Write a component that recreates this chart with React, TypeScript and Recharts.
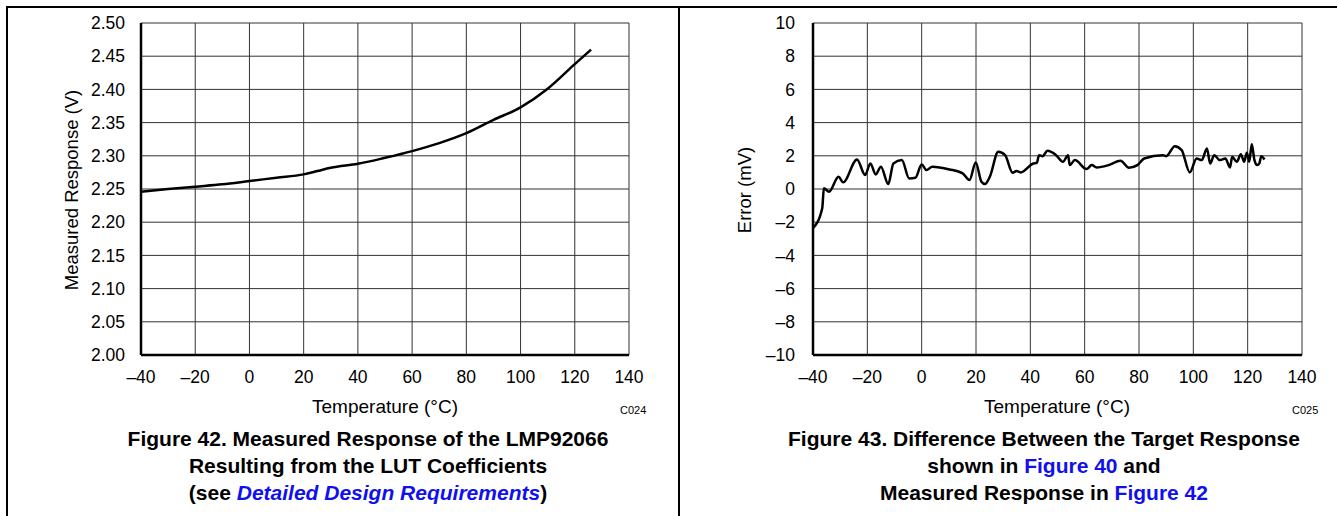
import React from 'react';
import { CartesianGrid, Line, LineChart, XAxis, YAxis } from 'recharts';

// Temperature axis shared by both figures
const TEMP_TICKS = [-40, -20, 0, 20, 40, 60, 80, 100, 120, 140];

// Figure 42: measured response (V)
const RESP_TEMP = [-40, -30, -20, -10, 0, 10, 20, 25, 30, 40, 50, 60, 70, 80, 90, 100, 110, 120, 126];
const RESP_VOLTS = [2.246, 2.25, 2.2535, 2.257, 2.262, 2.267, 2.272, 2.277, 2.282, 2.288, 2.297, 2.307, 2.319, 2.334, 2.354, 2.373, 2.401, 2.438, 2.46];
const RESP_TICKS = [2.0, 2.05, 2.1, 2.15, 2.2, 2.25, 2.3, 2.35, 2.4, 2.45, 2.5];

// Figure 43: error (mV)
const ERR_TEMP = [
  -40, -36.6, -36, -34.1, -30.6, -28.9, -23.8, -20.8, -18.9, -16.9, -15, -12.3, -10.4, -7.3, -4.6, -2.3, 0, 1.8, 3.9,
  10.2, 15.1, 17.6, 19.9, 22, 23.3, 25.1, 28.2, 30.7, 33.5, 34.9, 36.4, 41.1, 42.4, 43.2, 44.5, 46.3, 49.5, 52, 53.9,
  54.5, 56.4, 60.7, 62.6, 64.4, 68.8, 73.2, 76.3, 79.4, 81.9, 88.8, 90, 93.2, 95.7, 98.7, 101.2, 103.1, 105, 106.2,
  107.7, 109.7, 111.8, 113.5, 114.3, 116, 117.5, 118.7, 119.7, 120.6, 121.5, 122.5, 123.5, 124.3, 125, 126.2,
];
const ERR_MV = [
  -2.36, -1.16, 0.04, -0.16, 0.74, 0.4, 1.78, 0.84, 1.54, 0.88, 1.34, 0.3, 1.54, 1.74, 0.64, 0.68, 1.48, 1.14, 1.34,
  1.18, 0.94, 0.54, 1.6, 0.44, 0.3, 0.74, 2.24, 2.04, 0.98, 1.08, 1.0, 1.54, 1.58, 2.04, 1.98, 2.3, 2.04, 1.64, 2.04,
  1.44, 1.74, 1.2, 1.44, 1.3, 1.44, 1.7, 1.28, 1.44, 1.84, 2.04, 1.98, 2.58, 2.34, 1.0, 1.84, 1.74, 2.44, 1.54,
  2.04, 1.74, 1.84, 1.3, 1.94, 1.64, 2.1, 1.64, 2.18, 1.64, 2.7, 1.74, 1.44, 1.54, 1.98, 1.78,
];
const ERR_TICKS = [-10, -8, -6, -4, -2, 0, 2, 4, 6, 8, 10];

const respData = RESP_TEMP.map((t, i) => ({ t, v: RESP_VOLTS[i] }));
const errData = ERR_TEMP.map((t, i) => ({ t, v: ERR_MV[i] }));

const FONT = '"Liberation Sans", Arial, sans-serif';
const BLUE = '#1010ee';
const dash = (v: number | string) => String(v).replace('-', '\u2013');
const tickStyle = { fill: '#000', fontSize: 17.5, fontFamily: FONT };

interface PlotProps {
  data: { t: number; v: number }[];
  yDomain: [number, number];
  yTicks: number[];
  yFormat: (v: number) => string;
  width: number;
  yAxisWidth: number;
  rightMargin: number;
  yTickMargin: number;
}

function Plot({ data, yDomain, yTicks, yFormat, width, yAxisWidth, rightMargin, yTickMargin }: PlotProps) {
  return (
    <LineChart width={width} height={420} data={data} margin={{ top: 23, right: rightMargin, left: 0, bottom: 0 }}>
      <CartesianGrid stroke="#333" strokeWidth={1} />
      <XAxis
        type="number"
        dataKey="t"
        domain={[-40, 140]}
        ticks={TEMP_TICKS}
        interval={0}
        height={65}
        tickLine={false}
        tickSize={0}
        tickMargin={16}
        tickFormatter={dash}
        tick={tickStyle}
        axisLine={{ stroke: '#000', strokeWidth: 2.5 }}
      />
      <XAxis xAxisId="top" orientation="top" type="number" domain={[-40, 140]} height={0} tick={false} tickLine={false} axisLine={{ stroke: '#000', strokeWidth: 2.5 }} />
      <YAxis
        type="number"
        domain={yDomain}
        ticks={yTicks}
        interval={0}
        width={yAxisWidth}
        tickLine={false}
        tickSize={0}
        tickMargin={yTickMargin}
        tickFormatter={yFormat}
        tick={tickStyle}
        axisLine={{ stroke: '#000', strokeWidth: 2.5 }}
      />
      <YAxis yAxisId="right" orientation="right" domain={yDomain} width={0} tick={false} tickLine={false} axisLine={{ stroke: '#000', strokeWidth: 2.5 }} />
      <Line type="monotone" dataKey="v" stroke="#000" strokeWidth={2.5} dot={false} isAnimationActive={false} />
    </LineChart>
  );
}

const abs = (style: React.CSSProperties): React.CSSProperties => ({ position: 'absolute', fontFamily: FONT, color: '#000', ...style });

export default function App() {
  return (
    <div style={{ position: 'absolute', left: 0, top: 0, width: 1338, height: 516, background: '#fff', overflow: 'hidden' }}>
      {/* frame lines */}
      <div style={abs({ left: 6, top: 6, width: 1331, height: 2, background: '#000' })} />
      <div style={abs({ left: 6, top: 6, width: 2, height: 510, background: '#000' })} />
      <div style={abs({ left: 678, top: 6, width: 2, height: 510, background: '#000' })} />

      {/* Figure 42 */}
      <div style={abs({ left: 0, top: 0 })}>
        <Plot
          data={respData}
          yDomain={[2, 2.5]}
          yTicks={RESP_TICKS}
          yFormat={(v) => v.toFixed(2)}
          width={679}
          yAxisWidth={141}
          rightMargin={50}
          yTickMargin={16}
        />
      </div>
      <div style={abs({ left: 72, top: 190, fontSize: 18.5, whiteSpace: 'nowrap', transform: 'translate(-50%, -50%) rotate(-90deg)' })}>
        Measured Response (V)
      </div>
      <div style={abs({ left: 385, top: 407, fontSize: 19, whiteSpace: 'nowrap', transform: 'translate(-50%, -50%)' })}>
        Temperature (°C)
      </div>
      <div style={abs({ left: 620, top: 404, fontSize: 11 })}>C024</div>
      <div style={abs({ left: 68, top: 426, width: 600, textAlign: 'center', fontSize: 21, fontWeight: 'bold', lineHeight: '26.8px' })}>
        Figure 42. Measured Response of the LMP92066
        <br />
        Resulting from the LUT Coefficients
        <br />
        (see <span style={{ color: BLUE, fontStyle: 'italic' }}>Detailed Design Requirements</span>)
      </div>

      {/* Figure 43 */}
      <div style={abs({ left: 679, top: 0 })}>
        <Plot
          data={errData}
          yDomain={[-10, 10]}
          yTicks={ERR_TICKS}
          yFormat={(v) => dash(v)}
          width={659}
          yAxisWidth={134}
          rightMargin={36}
          yTickMargin={18}
        />
      </div>
      <div style={abs({ left: 745, top: 190, fontSize: 18.5, whiteSpace: 'nowrap', transform: 'translate(-50%, -50%) rotate(-90deg)' })}>
        Error (mV)
      </div>
      <div style={abs({ left: 1057, top: 407, fontSize: 19, whiteSpace: 'nowrap', transform: 'translate(-50%, -50%)' })}>
        Temperature (°C)
      </div>
      <div style={abs({ left: 1292, top: 404, fontSize: 11 })}>C025</div>
      <div style={abs({ left: 744, top: 426, width: 600, textAlign: 'center', fontSize: 21, fontWeight: 'bold', lineHeight: '26.8px' })}>
        Figure 43. Difference Between the Target Response
        <br />
        shown in <span style={{ color: BLUE }}>Figure 40</span> and
        <br />
        Measured Response in <span style={{ color: BLUE }}>Figure 42</span>
      </div>
    </div>
  );
}
